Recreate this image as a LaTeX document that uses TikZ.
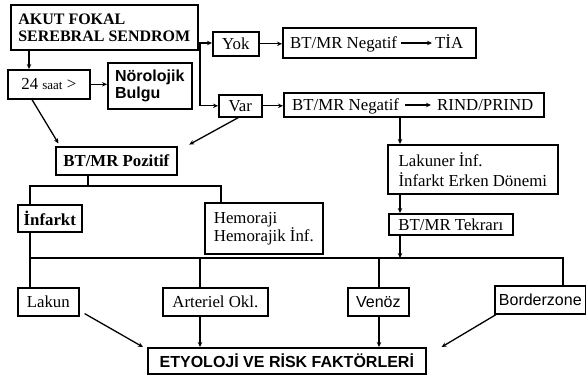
\documentclass[tikz,border=0pt]{standalone}
\usepackage{fontspec}
\setmainfont{Liberation Serif}
\newfontfamily\sansf{Liberation Sans}
\usetikzlibrary{arrows.meta}
\newcommand\fs{\fontsize{16.8}{19}\selectfont}
\tikzset{
  box/.style={draw, line width=1.6pt, anchor=north west, inner sep=2pt, align=left, font=\fs},
  conn/.style={line width=1.3pt},
  arr/.style={conn, -{Stealth[length=5pt,width=4.5pt]}},
  txt/.style={inner sep=0pt, anchor=base west, font=\fs},
}
\begin{document}
\begin{tikzpicture}[x=1pt,y=-1pt]
\useasboundingbox (0,0) rectangle (586,376);
% boxes
\node[box, minimum width=187pt, minimum height=45pt, font=\bfseries\fontsize{16}{17}\selectfont] (akut) at (10,4) {AKUT FOKAL\\SEREBRAL SENDROM};
\node[box, minimum width=82pt, minimum height=29pt] (saat) at (7,69) {24 {\fontsize{13}{15}\selectfont saat} >};
\node[box, minimum width=84pt, minimum height=46pt, font=\sansf\bfseries\fontsize{16}{17}\selectfont] (norol) at (107,62) {Nörolojik\\Bulgu};
\node[box, minimum width=46pt, minimum height=24pt] (yok) at (212,31) {Yok};
\node[box, minimum width=43pt, minimum height=22pt] (var) at (218,94) {Var};
\node[box, minimum width=193pt, minimum height=30pt] (neg1) at (282,27) {};
\node[box, minimum width=260pt, minimum height=24pt] (neg2) at (283,92) {};
\node[box, minimum width=121pt, minimum height=28pt, font=\bfseries\fs] (poz) at (55,146) {BT/MR Pozitif};
\node[box, minimum width=64pt, minimum height=27pt, font=\bfseries\fs] (inf) at (17,204) {İnfarkt};
\node[box, minimum width=118pt, minimum height=51pt, font=\fontsize{16.8}{18}\selectfont] (hem) at (204,202) {Hemoraji\\Hemorajik İnf.};
\node[box, minimum width=170pt, minimum height=49pt, font=\fontsize{16.8}{20}\selectfont] (lakuner) at (387,144) {Lakuner İnf.\\İnfarkt Erken Dönemi};
\node[box, minimum width=124pt, minimum height=21pt] (tekrar) at (388,213) {BT/MR Tekrarı};
\node[box, minimum width=61pt, minimum height=28pt] (lakun) at (17,287) {Lakun};
\node[box, minimum width=105pt, minimum height=28pt] (art) at (162,287) {Arteriel Okl.};
\node[box, minimum width=61pt, minimum height=28pt, font=\sansf\fontsize{16}{18}\selectfont] (venoz) at (347,287) {Venöz};
\node[box, minimum width=91pt, minimum height=28pt, font=\sansf\fontsize{16}{18}\selectfont] (border) at (494,285) {Borderzone};
\node[box, minimum width=278pt, minimum height=26pt, font=\sansf\bfseries\fontsize{16}{18}\selectfont] (etyo) at (147,347) {ETYOLOJİ VE RİSK FAKTÖRLERİ};
% texts inside the two negative boxes
\node[txt] (n1a) at (290,48) {BT/MR Negatif};
\node[txt] (tia) at (435,48) {TİA};
\draw[arr] ([xshift=4pt,yshift=5pt]n1a.base east) -- ([xshift=-3pt,yshift=5pt]tia.base west);
\node[txt] (n2a) at (292,110) {BT/MR Negatif};
\node[txt] (rind) at (437,110) {RIND/PRIND};
\draw[arr] ([xshift=6pt,yshift=5pt]n2a.base east) -- ([xshift=-6pt,yshift=5pt]rind.base west);
% coordinates
\coordinate (j1) at (200,43);
\coordinate (c29) at (29,0);
\coordinate (c400) at (400,0);
\coordinate (b1l) at (30,186);
\coordinate (b1m) at (88,186);
\coordinate (b1r) at (221,186);
\coordinate (b2l) at (30,258);
\coordinate (b2r) at (563,258);
\coordinate (c200) at (200,0);
\coordinate (c379) at (379,0);
% top part
\draw[conn] (akut.east|-j1) -- (j1);
\draw[arr] (j1) -- (yok.west|-j1);
\draw[arr] (j1) |- (var.west);
\draw[arr] (akut.south-|c29) -- (saat.north-|c29);
\draw[arr] (saat.east) -- (norol.west|-saat.east);
\draw[arr] (yok.east) -- (neg1.west|-yok.east);
\draw[arr] (var.east) -- (neg2.west|-var.east);
\draw[arr, shorten >=3pt] ([xshift=25pt]saat.south west) -- ([xshift=5pt]poz.north west);
\draw[arr, shorten >=3pt] ([xshift=-2pt]var.south) -- ([xshift=9pt]poz.north east);
% right column
\draw[arr] (neg2.south-|c400) -- (lakuner.north-|c400);
\draw[arr] (lakuner.south-|c400) -- (tekrar.north-|c400);
\draw[arr] (tekrar.south-|c400) -- (c400|-b2l);
% pozitif branches
\draw[conn] (poz.south-|b1m) -- (b1m);
\draw[conn] (inf.north-|b1l) -- (b1l) -- (b1r) -- (hem.north-|b1r);
% lower bus
\draw[conn] (inf.south-|b2l) -- (b2l) -- (b2r) -- (border.north-|b2r);
\draw[conn] (b2l) -- (lakun.north-|b2l);
\draw[conn] (c200|-b2l) -- (art.north-|c200);
\draw[conn] (c379|-b2l) -- (venoz.north-|c379);
% to etyoloji
\draw[arr] (art.south-|c200) -- (etyo.north-|c200);
\draw[arr] (venoz.south-|c379) -- (etyo.north-|c379);
\draw[arr] ([xshift=5pt,yshift=3pt]lakun.south east) -- ([xshift=-4pt]etyo.north west);
\draw[arr] ([xshift=2pt]border.south west) -- ([xshift=15pt]etyo.north east);
\end{tikzpicture}
\end{document}
